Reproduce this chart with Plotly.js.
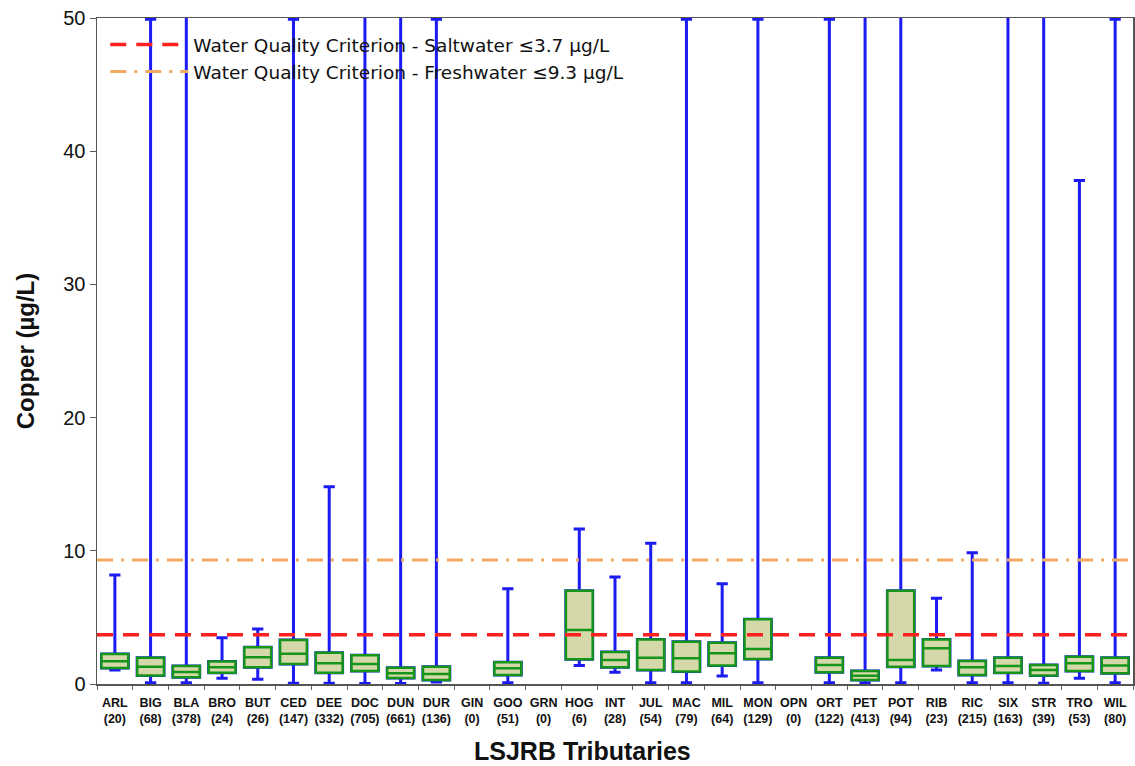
<!DOCTYPE html>
<html>
<head>
<meta charset="utf-8">
<script src="https://cdn.plot.ly/plotly-3.0.1.min.js"></script>
<style>html,body{margin:0;padding:0;background:#fff;}#chart{width:1135px;height:766px;}</style>
</head>
<body>
<div id="chart"></div>
<script>
// Tributary codes and sample counts
const codes  = ["ARL","BIG","BLA","BRO","BUT","CED","DEE","DOC","DUN","DUR","GIN","GOO","GRN","HOG","INT","JUL","MAC","MIL","MON","OPN","ORT","PET","POT","RIB","RIC","SIX","STR","TRO","WIL"];
const counts = [20,68,378,24,26,147,332,705,661,136,0,51,0,6,28,54,79,64,129,0,122,413,94,23,215,163,39,53,80];

// Box statistics (µg/L); null = no samples
const lowerWhisker = [1.05,0.1,0.1,0.43,0.35,0.05,0.05,0.03,0.03,0.15,null,0.1,null,1.38,0.88,0.1,0.1,0.6,0.1,null,0.1,0.05,0.1,1.05,0.1,0.1,0.05,0.43,0.1];
const q1Values     = [1.2,0.63,0.5,0.85,1.25,1.5,0.85,0.98,0.45,0.3,null,0.68,null,1.85,1.25,1.05,0.93,1.38,1.88,null,0.88,0.3,1.3,1.35,0.68,0.85,0.63,0.98,0.8];
const medianValues = [1.7,1.3,0.9,1.25,2.0,2.28,1.55,1.5,0.8,0.75,null,1.18,null,4.05,1.8,1.98,1.93,2.3,2.63,null,1.43,0.62,1.8,2.68,1.25,1.35,1.05,1.55,1.38];
const q3Values     = [2.25,1.98,1.35,1.68,2.75,3.3,2.35,2.15,1.22,1.3,null,1.63,null,7.0,2.4,3.35,3.18,3.1,4.86,null,1.98,0.98,7.0,3.35,1.73,1.98,1.43,2.05,1.98];
const upperWhisker = [8.18,49.9,80,3.48,4.13,49.9,14.8,80,80,49.9,null,7.16,null,11.64,8.03,10.56,49.9,7.53,49.9,null,49.9,80,80,6.43,9.86,80,80,37.8,49.9];

// Criteria
const criteriaNames  = ["Water Quality Criterion - Saltwater ≤3.7 µg/L","Water Quality Criterion - Freshwater ≤9.3 µg/L"];
const criteriaValues = [3.7, 9.3];

const tickText = codes.map((c,i)=>"<b>"+c+"<br>("+counts[i]+")</b>");

const idx = codes.map((c,i)=>i).filter(i=>q1Values[i]!==null);
const pick = arr => idx.map(i=>arr[i]);
const xs = pick(codes);

const BW = 0.75;
const whiskerTrace = {
  type:"box", x:xs, q1:pick(q1Values), median:pick(medianValues), q3:pick(q3Values),
  lowerfence:pick(lowerWhisker), upperfence:pick(upperWhisker),
  width:BW, whiskerwidth:0.42, boxpoints:false,
  line:{color:"#1c1cf2", width:3}, fillcolor:"rgba(0,0,0,0)",
  showlegend:false, hoverinfo:"skip"
};
const boxTrace = {
  type:"box", x:xs, q1:pick(q1Values), median:pick(medianValues), q3:pick(q3Values),
  lowerfence:pick(q1Values), upperfence:pick(q3Values),
  width:BW, whiskerwidth:0, boxpoints:false,
  line:{color:"#15961a", width:2.5}, fillcolor:"#d5d8a8",
  showlegend:false, hoverinfo:"skip"
};
const critTraces = [
  {type:"scatter", mode:"lines", xaxis:"x2", x:[0,1], y:[criteriaValues[0],criteriaValues[0]],
   name:criteriaNames[0], line:{color:"#ff2020", width:3.5, dash:"16px,10px"}, hoverinfo:"skip"},
  {type:"scatter", mode:"lines", xaxis:"x2", x:[0,1], y:[criteriaValues[1],criteriaValues[1]],
   name:criteriaNames[1], line:{color:"#f2aa62", width:3, dash:"16px,8px,3px,8px"}, hoverinfo:"skip"}
];

const layout = {
  width:1135, height:766,
  margin:{l:97, r:2, t:18, b:82},
  paper_bgcolor:"#fff", plot_bgcolor:"#fff",
  font:{family:"Arial, Liberation Sans, sans-serif", color:"#111"},
  boxmode:"overlay",
  showlegend:true,
  legend:{x:0.008, y:0.988, xanchor:"left", yanchor:"top", bgcolor:"rgba(0,0,0,0)",
          font:{family:"DejaVu Sans, sans-serif", size:18.5, color:"#111"}, itemwidth:78, tracegroupgap:0},
  xaxis:{
    type:"category", categoryorder:"array", categoryarray:codes,
    range:[-0.5, codes.length-0.5],
    tickmode:"array", tickvals:codes, ticktext:tickText, tickangle:0,
    tickfont:{size:12.5, color:"#111"}, ticklabelstandoff:6,
    tickson:"boundaries", ticks:"outside", ticklen:4, tickcolor:"#666",
    showline:true, linecolor:"#555", linewidth:1.5, mirror:true,
    showgrid:false, zeroline:false
  },
  xaxis2:{overlaying:"x", range:[0,1], visible:false, fixedrange:true},
  yaxis:{
    range:[0,50], tickvals:[0,10,20,30,40,50], ticks:"outside", ticklen:6, tickcolor:"#555",
    tickfont:{size:20, color:"#111"},
    showline:true, linecolor:"#555", linewidth:1.5, mirror:true,
    showgrid:false, zeroline:false,
    title:{text:"<b>Copper (µg/L)</b>", font:{size:24, color:"#111"}, standoff:22}
  },
  annotations:[{
    text:"<b>LSJRB Tributaries</b>", xref:"paper", yref:"paper",
    x:0.469, y:-0.101, xanchor:"center", yanchor:"middle", showarrow:false,
    font:{size:25, color:"#111"}
  }]
};

Plotly.newPlot("chart", [whiskerTrace, boxTrace].concat(critTraces), layout, {staticPlot:true, displayModeBar:false});
</script>
</body>
</html>
